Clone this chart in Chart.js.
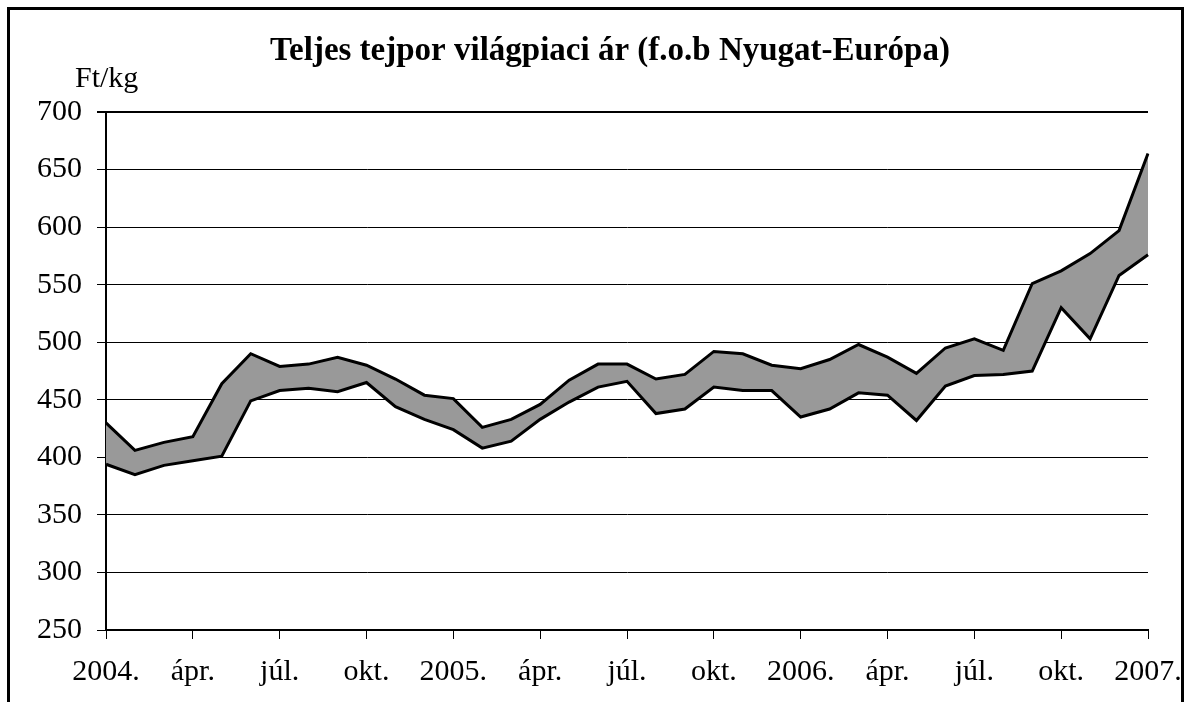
<!DOCTYPE html>
<html>
<head>
<meta charset="utf-8">
<script src="https://cdn.jsdelivr.net/npm/chart.js@4/dist/chart.umd.min.js"></script>
<style>
  html, body { margin: 0; padding: 0; background: #fff; }
  #wrap { position: relative; width: 1190px; height: 702px; overflow: hidden; }
  #keret { position: absolute; left: 7px; top: 7px; width: 1177px; height: 760px; border: 3px solid #000; box-sizing: border-box; }
  canvas { position: absolute; left: 0; top: 0; }
</style>
</head>
<body>
<div id="wrap">
  <div id="keret"></div>
  <canvas id="grafikon" width="1190" height="702"></canvas>
</div>
<script>
// havi cimkek 2004. januartol 2007. januarig
const honapok = [
    "2004.", "febr.", "márc.", "ápr.", "máj.", "jún.", "júl.", "aug.", "szept.", "okt.", "nov.", "dec.",
    "2005.", "febr.", "márc.", "ápr.", "máj.", "jún.", "júl.", "aug.", "szept.", "okt.", "nov.", "dec.",
    "2006.", "febr.", "márc.", "ápr.", "máj.", "jún.", "júl.", "aug.", "szept.", "okt.", "nov.", "dec.",
    "2007."
];

// also es felso ar (Ft/kg)
const alsoAr = [
    394, 385, 393, 397, 401, 449, 458, 460, 457, 465, 444, 433,
    424, 408, 414, 433, 448, 461, 466, 438, 442, 461, 458, 458,
    435, 442, 456, 454, 432, 462, 471, 472, 475, 530, 503, 558,
    576
];
const felsoAr = [
    430, 406, 413, 418, 464, 490, 479, 481, 487, 480, 468, 454,
    451, 426, 433, 446, 467, 481, 481, 468, 472, 492, 490, 480,
    477, 485, 498, 487, 473, 495, 503, 493, 551, 562, 577, 597,
    664
];

const yTickek = [250, 300, 350, 400, 450, 500, 550, 600, 650, 700];

const betu = "'Liberation Serif', 'Times New Roman', serif";

// cim es mertekegyseg felirat
const feliratok = {
    id: "feliratok",
    afterDraw(chart) {
        const ctx = chart.ctx;
        ctx.save();
        ctx.fillStyle = "#000";
        ctx.textBaseline = "alphabetic";
        ctx.font = "bold 33px " + betu;
        ctx.textAlign = "center";
        ctx.fillText("Teljes tejpor világpiaci ár (f.o.b Nyugat-Európa)", 610, 60);
        ctx.font = "30px " + betu;
        ctx.textAlign = "left";
        ctx.fillText("Ft/kg", 75, 87);
        ctx.restore();
    }
};

new Chart(document.getElementById("grafikon"), {
    type: "line",
    data: {
        labels: honapok,
        datasets: [
            {
                label: "alsó",
                data: alsoAr,
                borderColor: "#000",
                borderWidth: 3,
                pointRadius: 0,
                tension: 0,
                fill: false
            },
            {
                label: "felső",
                data: felsoAr,
                borderColor: "#000",
                borderWidth: 3,
                pointRadius: 0,
                tension: 0,
                fill: "-1",
                backgroundColor: "#999999"
            }
        ]
    },
    options: {
        responsive: false,
        animation: false,
        layout: { padding: { top: 112, left: 0, right: 42, bottom: 0 } },
        plugins: {
            legend: { display: false },
            tooltip: { enabled: false }
        },
        scales: {
            x: {
                offset: false,
                afterFit: s => { s.height = 72; s.paddingLeft = 0; s.paddingRight = 0; },
                border: { color: "#000", width: 2 },
                grid: {
                    drawOnChartArea: true,
                    color: c => c.index === honapok.length - 1 ? "#000" : "rgba(0,0,0,0)",
                    lineWidth: c => c.index === honapok.length - 1 ? 2 : 1,
                    tickColor: "#000",
                    tickLength: 9,
                    tickWidth: 1
                },
                ticks: {
                    autoSkip: false,
                    maxRotation: 0,
                    padding: 15,
                    color: "#000",
                    font: { family: betu, size: 30 },
                    callback: (v, i) => i % 3 === 0 ? honapok[i] : null
                }
            },
            y: {
                min: yTickek[0],
                max: yTickek[yTickek.length - 1],
                afterFit: s => { s.width = 106; },
                afterBuildTicks: s => { s.ticks = yTickek.map(v => ({ value: v })); },
                border: { color: "#000", width: 2 },
                grid: {
                    color: "#000",
                    lineWidth: c => c.tick && c.tick.value === 700 ? 2 : 1,
                    tickColor: "#000",
                    tickLength: 9
                },
                ticks: {
                    padding: 15,
                    color: "#000",
                    font: { family: betu, size: 30 }
                }
            }
        }
    },
    plugins: [feliratok]
});
</script>
</body>
</html>
